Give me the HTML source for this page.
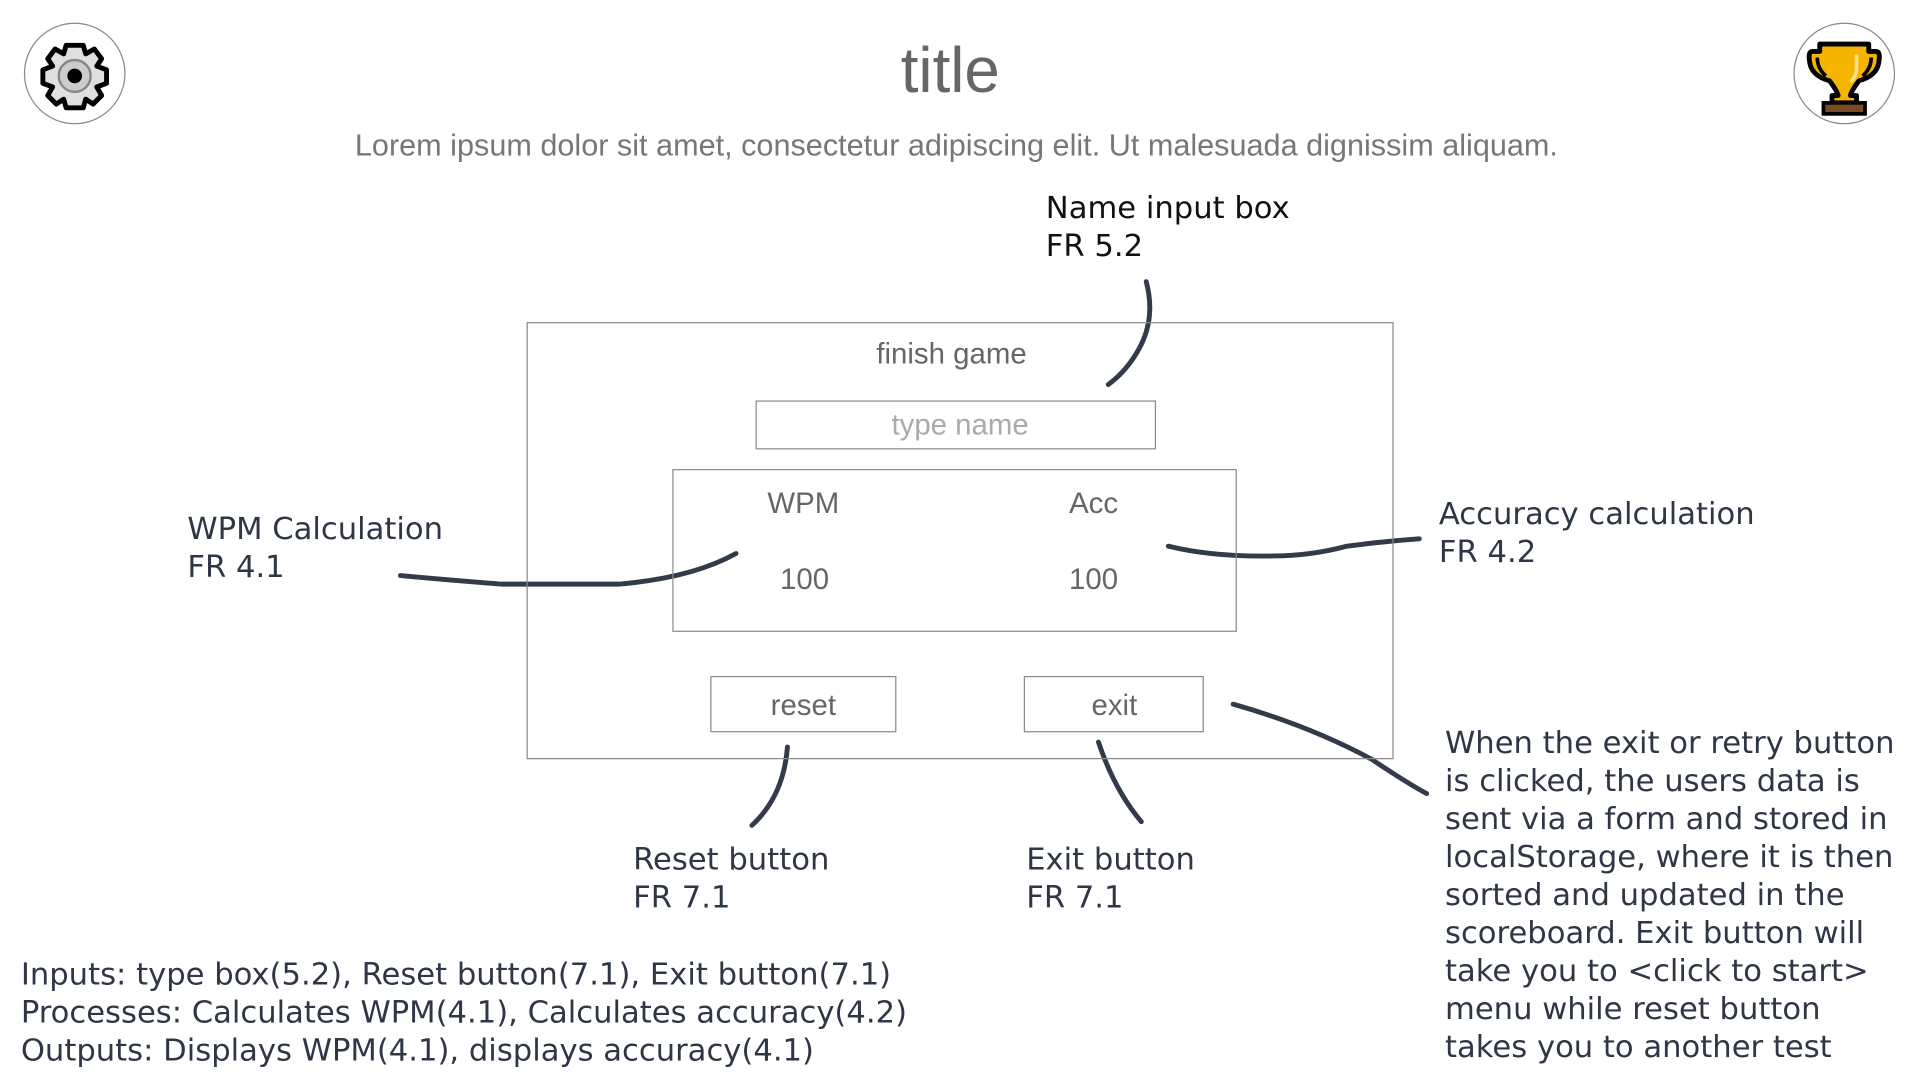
<!DOCTYPE html>
<html><head><meta charset="utf-8"><style>
html,body{margin:0;padding:0;background:#fff;width:1920px;height:1080px;overflow:hidden}
#s{position:absolute;left:0;top:0;width:1568px;height:882px;transform:scale(1.2246);transform-origin:0 0}
.t{position:absolute;white-space:nowrap;line-height:1}
.ui{font-family:"Liberation Sans",sans-serif;color:#666}
.an{font-family:"DejaVu Sans","Liberation Sans",sans-serif;color:#2f3645;font-size:25px;line-height:31px}
.box{position:absolute;border:1px solid #8a8a8a;box-sizing:border-box}
.c{transform:translateX(-50%)}
</style></head><body><div id="s">
<svg width="1568" height="882" style="position:absolute;left:0;top:0">
<circle cx="61" cy="60" r="41" fill="#fff" stroke="#888" stroke-width="1"/>
<g transform="translate(61,62)">
<path d="M-7,-25 L7,-25 L9,-18 L16,-22 L22,-14 L18,-8 L26,-5 L26,6 L18,9 L22,16 L15,23 L9,19 L7,26 L-7,26 L-9,19 L-15,23 L-22,16 L-18,9 L-26,6 L-26,-5 L-18,-8 L-22,-14 L-16,-22 L-9,-18 Z" fill="#e0e0e0" stroke="#000" stroke-width="4" stroke-linejoin="round"/>
<circle r="13" fill="#ccc" stroke="#888" stroke-width="2"/>
<circle r="6" fill="#000"/>
</g>
<circle cx="1506" cy="60" r="41" fill="#fff" stroke="#888" stroke-width="1"/>
<g transform="translate(1506,60)">
<path d="M-20,-24 L20,-24 L20,-18 L26,-18 Q30,-18 28,-8 Q26,2 12,6 Q6,14 5,18 L10,18 L10,24 L-10,24 L-10,18 L-5,18 Q-6,14 -12,6 Q-26,2 -28,-8 Q-30,-18 -26,-18 L-20,-18 Z" fill="#f5b400" stroke="#000" stroke-width="4" stroke-linejoin="round"/>
<rect x="-17" y="24" width="34" height="9" fill="#7a4a25" stroke="#000" stroke-width="3"/>
<path d="M-22,-13 Q-22,-4 -15,2 M22,-13 Q22,-4 15,2" stroke="#000" stroke-width="3" fill="none"/>
<path d="M10,-14 L10,-4 Q10,2 6,6" stroke="#ffe08a" stroke-width="3" fill="none" stroke-linecap="round"/>
</g>
<g fill="none" stroke="#333a4a" stroke-width="4" stroke-linecap="round">
<path d="M936,230 Q944,260 930,285 Q920,303 905,314"/>
<path d="M327,470 Q370,474 410,477 L505,477 Q565,472 601,452"/>
<path d="M954,446 Q990,455 1040,454 Q1070,454 1100,446 Q1130,442 1159,440"/>
<path d="M643,610 Q640,650 614,674"/>
<path d="M897,606 Q910,645 932,671"/>
<path d="M1007,575 Q1070,593 1120,620 Q1150,640 1165,648"/>
</g>
</svg>
<div class="t ui c" style="left:776px;top:32px;font-size:52px;color:#666">title</div>
<div class="t ui c" style="left:781px;top:107px;font-size:25px;color:#777">Lorem ipsum dolor sit amet, consectetur adipiscing elit. Ut malesuada dignissim aliquam.</div>
<div class="box" style="left:430px;top:263px;width:708px;height:357px"></div>
<div class="t ui c" style="left:777px;top:278px;font-size:24px">finish game</div>
<div class="box" style="left:617px;top:327px;width:327px;height:40px"></div>
<div class="t ui c" style="left:784px;top:336px;font-size:24px;color:#aaa">type name</div>
<div class="box" style="left:549px;top:383px;width:461px;height:133px"></div>
<div class="t ui c" style="left:656px;top:400px;font-size:24px">WPM</div>
<div class="t ui c" style="left:893px;top:400px;font-size:24px">Acc</div>
<div class="t ui c" style="left:657px;top:462px;font-size:24px">100</div>
<div class="t ui c" style="left:893px;top:462px;font-size:24px">100</div>
<div class="box" style="left:580px;top:552px;width:152px;height:46px"></div>
<div class="t ui c" style="left:656px;top:565px;font-size:24px">reset</div>
<div class="box" style="left:836px;top:552px;width:147px;height:46px"></div>
<div class="t ui c" style="left:910px;top:565px;font-size:24px">exit</div>
<div class="t an" style="left:854px;top:154px;color:#111">Name input box<br>FR 5.2</div>
<div class="t an" style="left:153px;top:416px">WPM Calculation<br>FR 4.1</div>
<div class="t an" style="left:1175px;top:404px">Accuracy calculation<br>FR 4.2</div>
<div class="t an" style="left:517px;top:686px">Reset button<br>FR 7.1</div>
<div class="t an" style="left:838px;top:686px">Exit button<br>FR 7.1</div>
<div class="t an" style="left:1180px;top:591px">When the exit or retry button<br>is clicked, the users data is<br>sent via a form and stored in<br>localStorage, where it is then<br>sorted and updated in the<br>scoreboard. Exit button will<br>take you to &lt;click to start&gt;<br>menu while reset button<br>takes you to another test</div>
<div class="t an" style="left:17px;top:780px">Inputs: type box(5.2), Reset button(7.1), Exit button(7.1)<br>Processes: Calculates WPM(4.1), Calculates accuracy(4.2)<br>Outputs: Displays WPM(4.1), displays accuracy(4.1)</div>
</div></body></html>
